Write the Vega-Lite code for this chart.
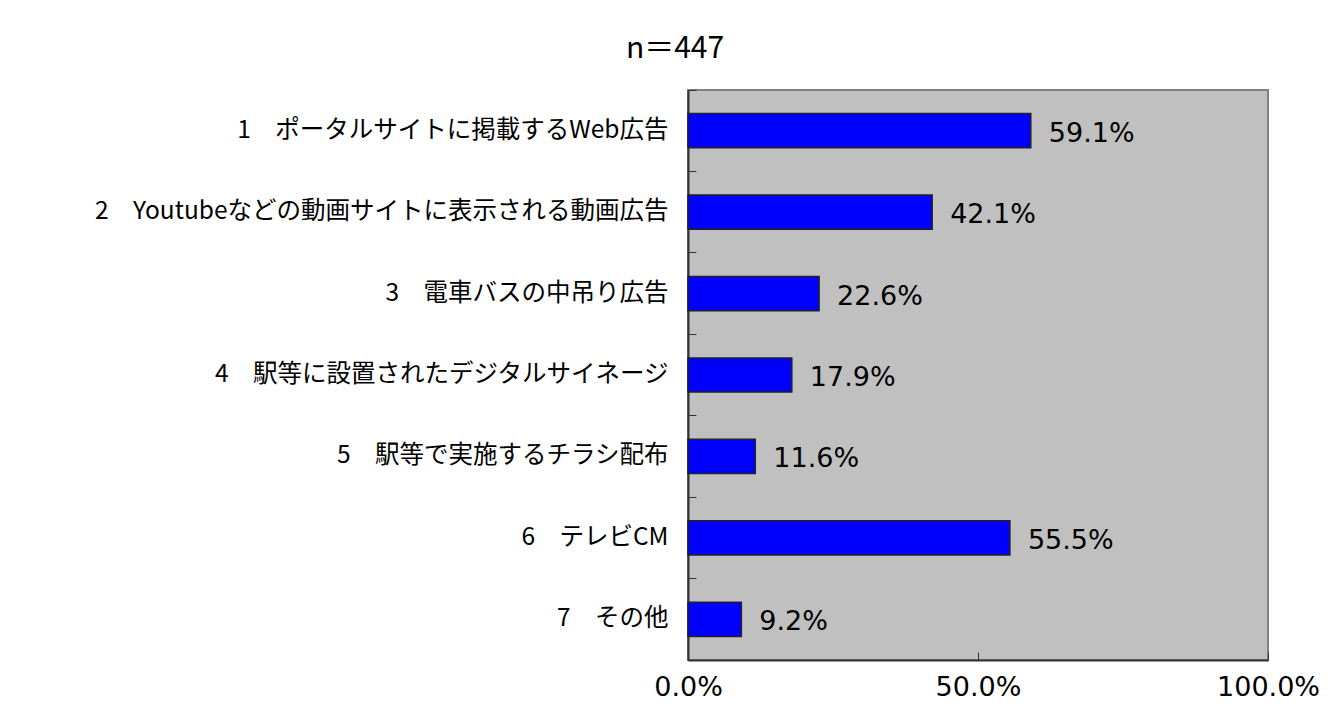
{
  "$schema": "https://vega.github.io/schema/vega-lite/v6.json",
  "width": 580,
  "height": 570,
  "autosize": {"type": "none"},
  "padding": {"left": 688, "top": 90, "right": 63, "bottom": 56},
  "background": "white",
  "title": {"text": "n＝447", "anchor": "middle", "dx": -303, "offset": 26, "fontSize": 30, "font": "Noto Sans CJK JP", "fontWeight": "normal", "color": "#000000"},
  "data": {"values": [
    {"item": "1　ポータルサイトに掲載するWeb広告", "pct": 59.1, "label": "59.1%"},
    {"item": "2　Youtubeなどの動画サイトに表示される動画広告", "pct": 42.1, "label": "42.1%"},
    {"item": "3　電車バスの中吊り広告", "pct": 22.6, "label": "22.6%"},
    {"item": "4　駅等に設置されたデジタルサイネージ", "pct": 17.9, "label": "17.9%"},
    {"item": "5　駅等で実施するチラシ配布", "pct": 11.6, "label": "11.6%"},
    {"item": "6　テレビCM", "pct": 55.5, "label": "55.5%"},
    {"item": "7　その他", "pct": 9.2, "label": "9.2%"}
  ]},
  "encoding": {
    "y": {"field": "item", "type": "nominal", "sort": null, "title": null,
      "scale": {"paddingInner": 0, "paddingOuter": 0},
      "axis": {"bandPosition": 0, "tickSize": -8, "tickColor": "#333333", "domainColor": "#333333", "domainWidth": 2, "labelFont": "Noto Sans CJK JP", "labelFontSize": 24.5, "labelColor": "#000000", "labelPadding": 28, "labelLimit": 0}},
    "x": {"field": "pct", "type": "quantitative", "title": null,
      "scale": {"domain": [0, 100]},
      "axis": {"values": [0, 50, 100], "labelExpr": "format(datum.value, '.1f') + '%'", "grid": false, "tickSize": -8, "tickColor": "#333333", "domainColor": "#333333", "domainWidth": 2, "labelFont": "DejaVu Sans", "labelFontSize": 27, "labelColor": "#000000", "labelPadding": 22, "labelFlush": false}}
  },
  "layer": [
    {"mark": {"type": "bar", "height": {"band": 0.42}, "color": "#0000FF", "stroke": "#222222", "strokeWidth": 1.5}},
    {"mark": {"type": "text", "align": "left", "baseline": "middle", "dx": 18, "dy": 3, "fontSize": 27, "font": "DejaVu Sans", "color": "#000000"},
     "encoding": {"text": {"field": "label"}}}
  ],
  "config": {"view": {"fill": "#C0C0C0", "stroke": "#808080", "strokeWidth": 2}}
}
